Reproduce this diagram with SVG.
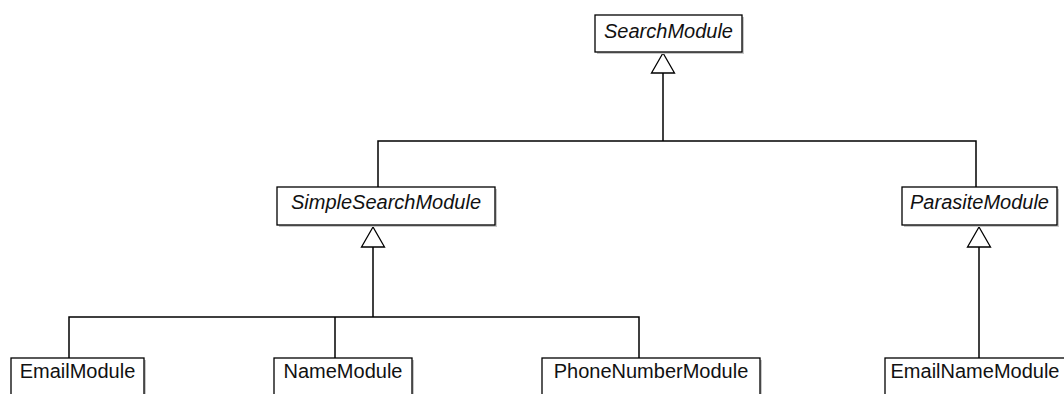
<svg xmlns="http://www.w3.org/2000/svg" width="1064" height="394" viewBox="0 0 1064 394">
<style>
.box{fill:#fff;stroke:#000;stroke-width:1.3}
.sh{fill:#c8c8c8}
.t{font-family:"Liberation Sans",Arial,sans-serif;font-size:20px;fill:#111;text-anchor:middle}
.i{font-style:italic}
.ln{fill:none;stroke:#000;stroke-width:1.5}
.tri{fill:#fff;stroke:#000;stroke-width:1.3}
</style>
<rect width="1064" height="394" fill="#fff"/>
<g id="connectors">
<polyline class="ln" points="663,73 663,141"/>
<polyline class="ln" points="378,187 378,141 976,141 976,187"/>
<polyline class="ln" points="373,247 373,317"/>
<polyline class="ln" points="69,358 69,317 639,317 639,358"/>
<polyline class="ln" points="335,317 335,358"/>
<polyline class="ln" points="979,247 979,358"/>
<polygon class="tri" points="663,53 651.5,73 674.5,73"/>
<polygon class="tri" points="373,227 361.5,247 384.5,247"/>
<polygon class="tri" points="979,227 967.5,247 990.5,247"/>
</g>
<g id="SearchModule">
<rect class="sh" x="597" y="17" width="147" height="37"/>
<rect class="box" x="595" y="15" width="147" height="37"/>
<text class="t i" x="668.5" y="38">SearchModule</text>
</g>
<g id="SimpleSearchModule">
<rect class="sh" x="279" y="189" width="218" height="38"/>
<rect class="box" x="277" y="187" width="218" height="38"/>
<text class="t i" x="386" y="209">SimpleSearchModule</text>
</g>
<g id="ParasiteModule">
<rect class="sh" x="904" y="189" width="155" height="38"/>
<rect class="box" x="902" y="187" width="155" height="38"/>
<text class="t i" x="979.5" y="209">ParasiteModule</text>
</g>
<g id="EmailModule">
<rect class="sh" x="13" y="360" width="133" height="40"/>
<rect class="box" x="11" y="358" width="133" height="40"/>
<text class="t" x="77.5" y="378">EmailModule</text>
</g>
<g id="NameModule">
<rect class="sh" x="276" y="360" width="138" height="40"/>
<rect class="box" x="274" y="358" width="138" height="40"/>
<text class="t" x="343" y="378">NameModule</text>
</g>
<g id="PhoneNumberModule">
<rect class="sh" x="544" y="360" width="218" height="40"/>
<rect class="box" x="542" y="358" width="218" height="40"/>
<text class="t" x="651" y="378">PhoneNumberModule</text>
</g>
<g id="EmailNameModule">
<rect class="sh" x="887" y="360" width="190" height="40"/>
<rect class="box" x="885" y="358" width="190" height="40"/>
<text class="t" x="975" y="378">EmailNameModule</text>
</g>
</svg>
